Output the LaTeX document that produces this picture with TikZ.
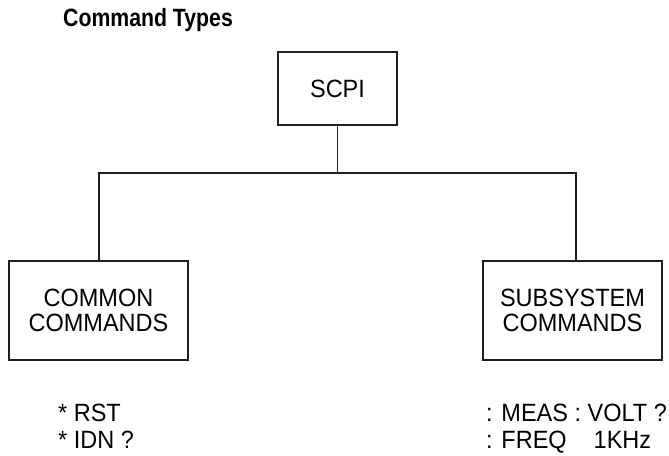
\documentclass[tikz,border=0pt]{standalone}
\usepackage{fontspec}
\setmainfont{Liberation Sans}
\newfontfamily\hvfont[FakeStretch=0.94]{Liberation Sans}
\newfontfamily\titlefont[FakeStretch=0.85]{Liberation Sans}
\begin{document}
\begin{tikzpicture}[x=1pt,y=-1pt,
  boxnode/.style={draw=black!88, line width=1.6pt, inner sep=0pt, align=center,
     font=\hvfont\fontsize{25}{25}\selectfont},
  cmdtext/.style={inner sep=0pt, anchor=base west, font=\hvfont\fontsize{25}{28}\selectfont},
  wire/.style={draw=black!88, line width=1.6pt}]
\useasboundingbox (0,0) rectangle (669,455);
\node[inner sep=0pt, anchor=base west, font=\titlefont\fontsize{25}{28}\selectfont\bfseries] (title) at (63,26) {Command Types};
\node[boxnode, minimum width=119pt, minimum height=73pt] (scpi) at (337.5,88.5) {SCPI};
\node[boxnode, minimum width=179pt, minimum height=99pt] (common) at (98.5,310.5) {COMMON\\COMMANDS};
\node[boxnode, minimum width=179pt, minimum height=99pt] (subsys) at (572.5,310.5) {SUBSYSTEM\\COMMANDS};
\coordinate (jL) at (99,173);
\coordinate (jR) at (576,173);
\draw[wire] (scpi.south) -- (scpi.south |- jL);
\draw[wire] (common.north -| jL) -- (jL) -- (jR) -- (subsys.north -| jR);
\node[cmdtext] (rst) at (58,421) {* RST};
\node[cmdtext] (idn) at (58,448) {* IDN ?};
\node[cmdtext] (meas) at (486,421) {: MEAS : VOLT ?};
\node[cmdtext] (freq) at (486,448) {: FREQ\hspace{27pt}1KHz};
\end{tikzpicture}
\end{document}
